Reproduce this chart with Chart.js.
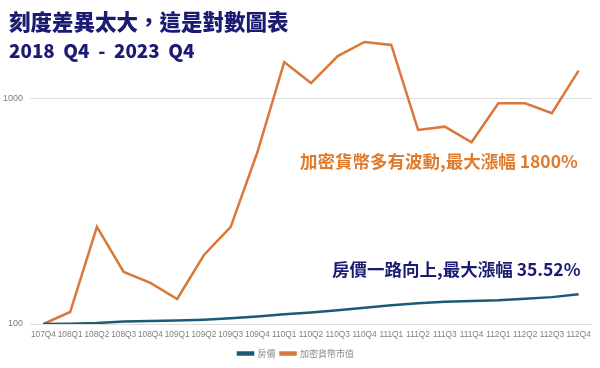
<!DOCTYPE html>
<html>
<head>
<meta charset="utf-8">
<script src="https://cdn.jsdelivr.net/npm/chart.js@4"></script>
<style>
  html, body { margin: 0; padding: 0; background: #fff; }
  #wrap { position: relative; width: 600px; height: 368px; overflow: hidden; }
  canvas { position: absolute; left: 0; top: 0; }
  .txt { position: absolute; font-family: "Noto Sans CJK TC", "Noto Sans CJK SC", sans-serif; font-weight: 900; white-space: pre; line-height: 1; }
</style>
</head>
<body>
<div id="wrap">
  <canvas id="c" width="600" height="368"></canvas>
  <div class="txt" style="left:9px; top:10px; font-size:21.5px; color:#1b1b73;">刻度差異太大，這是對數圖表</div>
  <div class="txt" style="left:9px; top:41px; font-size:18.8px; color:#1b1b73;">2018  Q4  -  2023  Q4</div>
  <div class="txt" style="left:300px; top:152px; font-size:17.5px; font-weight:700; color:#e07b2c;">加密貨幣多有波動,最大漲幅 1800%</div>
  <div class="txt" style="left:332px; top:260px; font-size:17.5px; font-weight:700; color:#1b1b73;">房價一路向上,最大漲幅 35.52%</div>
</div>
<script>
const categories = ["107Q4","108Q1","108Q2","108Q3","108Q4","109Q1","109Q2","109Q3","109Q4","110Q1","110Q2","110Q3","110Q4","111Q1","111Q2","111Q3","111Q4","112Q1","112Q2","112Q3","112Q4"];
const housing = [100, 100.3, 101, 102.5, 103, 103.5, 104.5, 106, 108, 110.5, 112.5, 115, 118, 121, 123.5, 125.5, 126.5, 127.5, 129.5, 131.5, 135.52];
const crypto = [100, 113, 269, 170, 152, 129, 202, 269, 577, 1443, 1165, 1534, 1770, 1717, 722, 747, 637, 947, 947, 856, 1321];
const yTicks = [100, 1000];
const seriesNames = ["房價", "加密貨幣市值"];

new Chart(document.getElementById('c'), {
  type: 'line',
  data: {
    labels: categories,
    datasets: [
      { label: seriesNames[0], data: housing, borderColor: '#1d5a77', backgroundColor: '#1d5a77', borderWidth: 2.5, pointRadius: 0, tension: 0 },
      { label: seriesNames[1], data: crypto, borderColor: '#d9783a', backgroundColor: '#d9783a', borderWidth: 2.5, pointRadius: 0, tension: 0 }
    ]
  },
  options: {
    responsive: false,
    animation: false,
    layout: { padding: { top: 30, right: 8, left: 0, bottom: 0 } },
    plugins: {
      legend: {
        position: 'bottom',
        labels: {
          boxWidth: 15, boxHeight: 2, padding: 5,
          color: '#8c8c8c',
          font: { family: '"Noto Sans CJK TC", sans-serif', size: 9 }
        }
      },
      tooltip: { enabled: false }
    },
    scales: {
      x: {
        offset: true,
        grid: { display: false, drawTicks: false },
        border: { display: false },
        ticks: { color: '#7f7f7f', font: { family: '"Liberation Sans", sans-serif', size: 8.3 }, maxRotation: 0, minRotation: 0, autoSkip: false, padding: 6 },
        afterFit: (s) => { s.height = 20; }
      },
      y: {
        type: 'logarithmic',
        min: 100,
        max: 2000,
        afterBuildTicks: (s) => { s.ticks = yTicks.map(v => ({ value: v })); },
        grid: { color: '#dedede', drawTicks: false, lineWidth: 1 },
        border: { display: false },
        ticks: { color: '#7f7f7f', font: { family: '"Liberation Sans", sans-serif', size: 9 }, padding: 7, callback: (v) => String(v) },
        afterFit: (s) => { s.width = 30; }
      }
    }
  }
});
</script>
</body>
</html>
